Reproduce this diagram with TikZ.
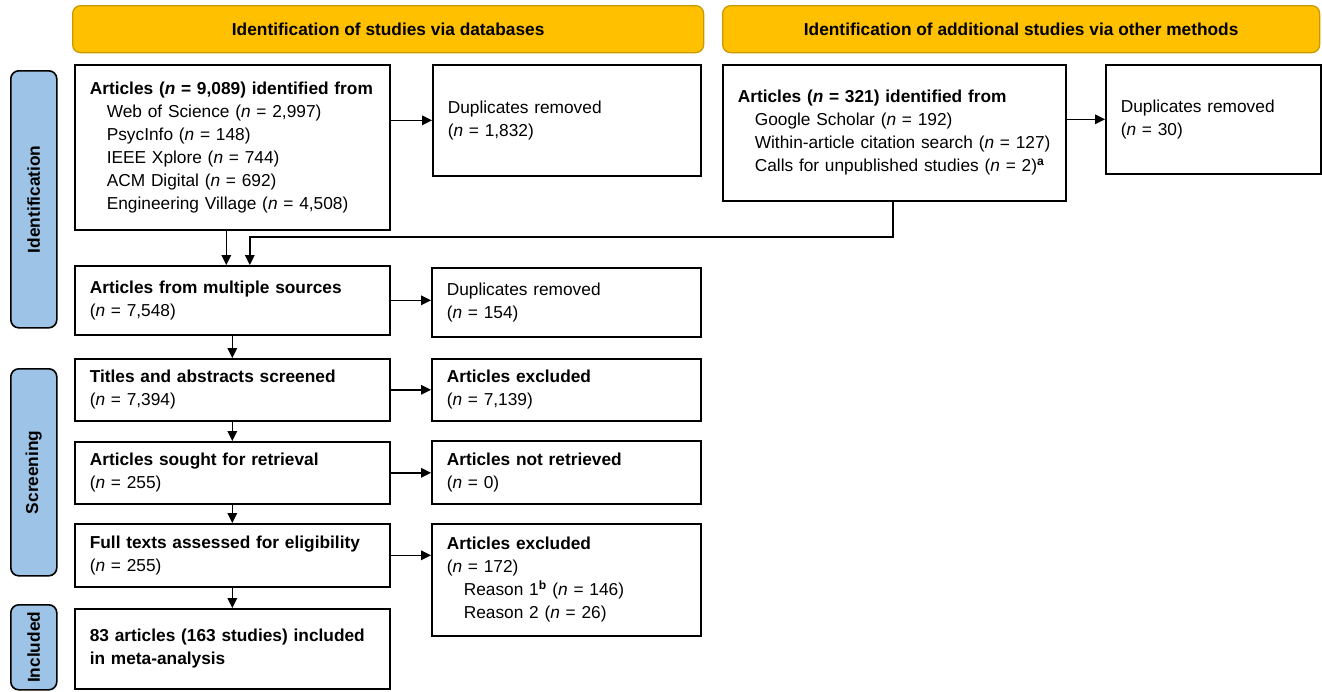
\documentclass[tikz,border=0pt]{standalone}
\usepackage{fontspec}
\setmainfont{Liberation Sans}
\usetikzlibrary{arrows.meta,calc}
\definecolor{hdrfill}{HTML}{FFC000}
\definecolor{hdrline}{HTML}{C99A00}
\definecolor{sidefill}{HTML}{9DC3E6}
\begin{document}
\begin{tikzpicture}[x=1pt,y=-1pt,
  box/.style={draw=black, line width=1.6pt, anchor=north west, inner xsep=15pt, inner ysep=0pt,
    align=left, font=\fontsize{17.3}{23}\selectfont},
  hdr/.style={draw=hdrline, fill=hdrfill, line width=1.3pt, rounded corners=8pt, anchor=north west,
    inner sep=0pt, align=center, font=\fontsize{17.3}{23}\selectfont\bfseries},
  side/.style={draw=black, fill=sidefill, line width=1.6pt, rounded corners=8pt, anchor=north west,
    inner sep=0pt},
  sidetxt/.style={rotate=90, font=\fontsize{17.3}{23}\selectfont\bfseries},
  arr/.style={line width=1.6pt, -{Triangle[length=10pt,width=9.5pt]}},
  ln/.style={line width=1.5pt}]
\useasboundingbox (0,0) rectangle (1322,691);
% headers
\node[hdr, minimum width=631pt, minimum height=47pt] (H1) at (72,5) {Identification of studies via databases};
\node[hdr, minimum width=597pt, minimum height=47pt] (H2) at (722,5) {Identification of additional studies via other methods};
% side labels
\node[side, minimum width=46pt, minimum height=257pt] (L1) at (10,70) {};
\node[sidetxt] at (L1.center) {Identification};
\node[side, minimum width=46pt, minimum height=207pt] (L2) at (10,368) {};
\node[sidetxt] at (L2.center) {Screening};
\node[side, minimum width=46pt, minimum height=85pt] (L3) at (10,604) {};
\node[sidetxt] at (L3.center) {Included};
% boxes
\node[box, text width=285pt, minimum height=165pt] (A1) at (74,64) {\textbf{Articles (\textit{n} = 9,089) identified from}\\
\hspace*{17pt}Web of Science (\textit{n} = 2,997)\\
\hspace*{17pt}PsycInfo (\textit{n} = 148)\\
\hspace*{17pt}IEEE Xplore (\textit{n} = 744)\\
\hspace*{17pt}ACM Digital (\textit{n} = 692)\\
\hspace*{17pt}Engineering Village (\textit{n} = 4,508)};
\node[box, text width=238pt, minimum height=111pt] (D1) at (432,64) {Duplicates removed\\(\textit{n} = 1,832)};
\node[box, text width=313pt, minimum height=136pt] (B1) at (722,64) {\textbf{Articles (\textit{n} = 321) identified from}\\
\hspace*{17pt}Google Scholar (\textit{n} = 192)\\
\hspace*{17pt}Within-article citation search (\textit{n} = 127)\\
\hspace*{17pt}Calls for unpublished studies (\textit{n} = 2)\textsuperscript{\textbf{a}}};
\node[box, text width=185pt, minimum height=109pt] (D2) at (1105,64) {Duplicates removed\\(\textit{n} = 30)};
\node[box, text width=285pt, minimum height=69pt] (M) at (74,265) {\textbf{Articles from multiple sources}\\(\textit{n} = 7,548)};
\node[box, text width=239pt, minimum height=69pt] (D3) at (431,267) {Duplicates removed\\(\textit{n} = 154)};
\node[box, text width=285pt, minimum height=62pt] (T) at (74,358) {\textbf{Titles and abstracts screened}\\(\textit{n} = 7,394)};
\node[box, text width=239pt, minimum height=62pt] (E1) at (431,358) {\textbf{Articles excluded}\\(\textit{n} = 7,139)};
\node[box, text width=285pt, minimum height=62pt] (S) at (74,441) {\textbf{Articles sought for retrieval}\\(\textit{n} = 255)};
\node[box, text width=239pt, minimum height=63pt] (NR) at (431,440) {\textbf{Articles not retrieved}\\(\textit{n} = 0)};
\node[box, text width=285pt, minimum height=63pt] (F) at (74,523) {\textbf{Full texts assessed for eligibility}\\(\textit{n} = 255)};
\node[box, text width=239pt, minimum height=112pt] (E2) at (431,523) {\textbf{Articles excluded}\\(\textit{n} = 172)\\
\hspace*{17pt}Reason 1\textsuperscript{\textbf{b}} (\textit{n} = 146)\\
\hspace*{17pt}Reason 2 (\textit{n} = 26)};
\node[box, text width=285pt, minimum height=80pt] (I) at (74,608) {\textbf{83 articles (163 studies) included}\\\textbf{in meta-analysis}};
% connectors
\draw[arr] (A1.east |- D1.west) -- (D1.west);
\draw[arr] (B1.east |- D2.west) -- (D2.west);
\draw[arr] ([xshift=-6pt]A1.south) -- ([xshift=-6pt]M.north);
\coordinate (jB) at (B1.south -| 893,0);
\coordinate (jM) at ($(M.north)+(17.5,0)$);
\coordinate (jy) at (0,237);
\draw[arr] (jB) -- (jB |- jy) -| (jM);
\draw[arr] (M.east) -- (M.east -| D3.west);
\draw[arr] (M.south) -- (T.north);
\draw[arr] (T.east) -- (T.east -| E1.west);
\draw[arr] (T.south) -- (S.north);
\draw[arr] (S.east) -- (S.east -| NR.west);
\draw[arr] (S.south) -- (F.north);
\draw[arr] (F.east) -- (F.east -| E2.west);
\draw[arr] (F.south) -- (I.north);
\end{tikzpicture}
\end{document}
